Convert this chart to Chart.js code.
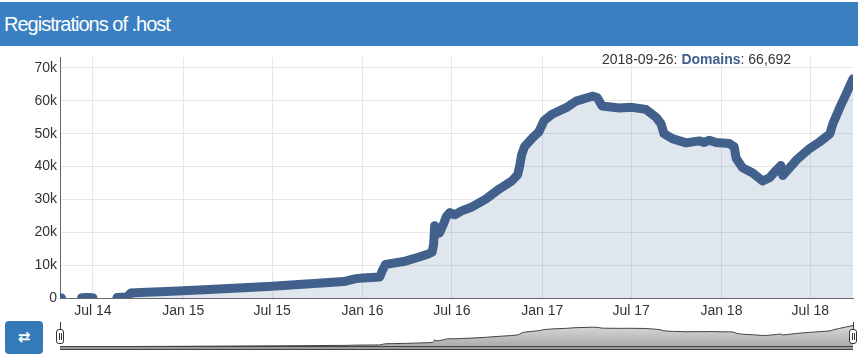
<!DOCTYPE html>
<html>
<head>
<meta charset="utf-8">
<script src="https://cdn.jsdelivr.net/npm/chart.js@4"></script>
<style>
  html,body{margin:0;padding:0;background:#fff;width:858px;height:357px;overflow:hidden;font-family:"Liberation Sans",Arial,sans-serif;}
  #header{position:absolute;left:0;top:2px;width:858px;height:44px;background:#3a7fc1;color:#fff;font-size:20px;letter-spacing:-1px;line-height:44px;padding-left:4px;box-sizing:border-box;}
  #main{position:absolute;left:0;top:46px;}
  #info{position:absolute;left:602px;top:51px;font-size:14px;color:#333;white-space:nowrap;}
  #info b{color:#41618c;}
  #btn{position:absolute;left:5px;top:321px;width:38px;height:33px;background:#337ab7;border-radius:4px;color:#fff;font-size:15px;font-weight:bold;text-align:center;line-height:33px;font-family:"DejaVu Sans",sans-serif;}
  #nav{position:absolute;left:60px;top:317px;}
  #navbase{position:absolute;left:60px;top:346px;width:793px;height:4px;background:#9a9a9a;border-top:1px solid #444;border-bottom:1px solid #444;box-sizing:border-box;}
  .hline{position:absolute;width:1px;height:8px;top:322px;background:#333;}
  .handle{position:absolute;top:329px;width:8px;height:15px;background:#fff;border:1px solid #333;border-radius:3px;box-sizing:border-box;}
  .handle:before,.handle:after{content:"";position:absolute;top:3px;width:1px;height:7px;background:#333;}
  .handle:before{left:2px;} .handle:after{left:4px;}
</style>
</head>
<body>
<div id="header">Registrations of .host</div>
<canvas id="main" width="858" height="272"></canvas>
<div id="info">2018-09-26: <b>Domains</b>: 66,692</div>
<div id="btn">⇄</div>
<canvas id="nav" width="793" height="30"></canvas>
<div id="navbase"></div>
<div class="hline" style="left:60px"></div>
<div class="handle" style="left:56px"></div>
<div class="hline" style="left:853px"></div>
<div class="handle" style="left:849px"></div>
<script>
// ---- data ----
const dates = [
 '2014-04-25','2014-04-28', null,
 '2014-06-08','2014-06-20','2014-07-01', null,
 '2014-08-19','2014-08-28','2014-09-07','2014-09-12','2014-09-16',
 '2014-10-06','2014-11-15','2015-01-01','2015-04-04','2015-07-01','2015-08-24',
 '2015-10-25','2015-11-24','2015-12-08','2015-12-19','2016-01-01','2016-02-05',
 '2016-02-11','2016-02-17','2016-03-04','2016-03-28','2016-04-24','2016-05-14',
 '2016-05-22','2016-05-25','2016-05-27','2016-05-30','2016-06-06','2016-06-14',
 '2016-06-20','2016-06-27','2016-07-07','2016-07-21','2016-08-11','2016-09-08',
 '2016-10-05','2016-10-31','2016-11-12','2016-11-16','2016-11-20','2016-11-26',
 '2016-12-11','2016-12-25','2017-01-05','2017-01-21','2017-02-19','2017-03-11',
 '2017-04-13','2017-04-23','2017-05-03','2017-06-07','2017-07-03','2017-07-31',
 '2017-08-21','2017-08-31','2017-09-06','2017-09-23','2017-10-21','2017-11-17',
 '2017-11-27','2017-12-07','2017-12-21','2018-01-17','2018-01-27','2018-01-31',
 '2018-02-13','2018-03-05','2018-03-26','2018-04-09','2018-04-23','2018-05-02',
 '2018-05-06','2018-05-20','2018-06-03','2018-06-30','2018-07-20','2018-08-10',
 '2018-08-16','2018-08-30','2018-09-13','2018-09-26'
];
const domains = [
 0, 0, null,
 100, 150, 100, null,
 150, 200, 200, 900, 1500,
 1700, 1900, 2200, 2900, 3600, 4100,
 4700, 5000, 5500, 5900, 6100, 6400,
 8500, 10200, 10600, 11200, 12400, 13400,
 14000, 16500, 22000, 19500, 19800, 22500,
 24800, 26000, 25300, 26500, 27700, 30100,
 33100, 35600, 37500, 40000, 43500, 46000,
 48500, 50500, 54000, 55900, 57900, 59900,
 61400, 61000, 58400, 57800, 58000, 57400,
 55000, 53000, 50000, 48500, 47200, 47800,
 47300, 48000, 47300, 47000, 46000, 42500,
 39600, 38100, 35600, 36600, 38900, 40300,
 37300, 39600, 42000, 45500, 47500, 50000,
 53000, 57900, 62400, 66692
];
const xTickDates = ['2014-07-01','2015-01-01','2015-07-01','2016-01-01','2016-07-01','2017-01-01','2017-07-01','2018-01-01','2018-07-01'];
const xTickLabels = ['Jul 14','Jan 15','Jul 15','Jan 16','Jul 16','Jan 17','Jul 17','Jan 18','Jul 18'];
const yTicks = [0,10000,20000,30000,40000,50000,60000,70000];
const yTickLabels = ['0','10k','20k','30k','40k','50k','60k','70k'];

// ---- helpers ----
function dayNum(s){const p=s.split('-').map(Number);return Date.UTC(p[0],p[1]-1,p[2])/864e5;}
let lastX = null;
const points = dates.map((d,i)=>{
  if(d===null) return {x:lastX+1, y:null};
  lastX = dayNum(d);
  return {x:lastX, y:domains[i]};
});
const xMin = dayNum(dates[0]);
const xMax = dayNum(dates[dates.length-1]);
const FONT = {family:'"Liberation Sans", Arial, sans-serif', size:14};

new Chart(document.getElementById('main'), {
  type:'line',
  data:{datasets:[{
    data:points, borderColor:'#41618c', backgroundColor:'rgba(65,97,140,0.16)',
    fill:'origin', borderWidth:9, pointRadius:0, tension:0,
    borderCapStyle:'round', borderJoinStyle:'round', spanGaps:false, clip:0
  }]},
  options:{
    responsive:false, animation:false, events:[],
    plugins:{legend:{display:false}, tooltip:{enabled:false}},
    layout:{padding:{top:6,right:5,left:0,bottom:0}},
    scales:{
      x:{type:'linear', min:xMin, max:xMax,
        afterBuildTicks:s=>{s.ticks = xTickDates.map(d=>({value:dayNum(d)}));},
        ticks:{callback:(v)=>{const i=xTickDates.findIndex(d=>dayNum(d)===v);return i<0?'':xTickLabels[i];},
          font:FONT, color:'#333', padding:5, maxRotation:0, autoSkip:false},
        grid:{color:'#e6e6e6', drawTicks:false},
        border:{color:'#666'},
        afterFit:s=>{s.height=20;}
      },
      y:{min:0, max:73200,
        afterBuildTicks:s=>{s.ticks = yTicks.map(v=>({value:v}));},
        ticks:{callback:(v)=>{const i=yTicks.indexOf(v);return i<0?'':yTickLabels[i];},
          font:FONT, color:'#333', padding:3},
        grid:{color:'#e6e6e6', drawTicks:false},
        border:{color:'#666'},
        afterFit:s=>{s.width=60;}
      }
    }
  }
});

new Chart(document.getElementById('nav'), {
  type:'line',
  data:{datasets:[{
    data:points, borderColor:'#444', borderWidth:1, pointRadius:0, tension:0, spanGaps:true,
    fill:'origin',
    backgroundColor:(c)=>{const a=c.chart.chartArea; if(!a) return '#ccc';
      const g=c.chart.ctx.createLinearGradient(0,a.top,0,a.bottom);
      g.addColorStop(0,'#ececec'); g.addColorStop(1,'#a9a9a9'); return g;}
  }]},
  options:{
    responsive:false, animation:false, events:[],
    plugins:{legend:{display:false}, tooltip:{enabled:false}},
    layout:{padding:0},
    scales:{
      x:{type:'linear', min:xMin, max:xMax, display:false},
      y:{min:0, max:93000, display:false}
    }
  }
});
</script>
</body>
</html>
